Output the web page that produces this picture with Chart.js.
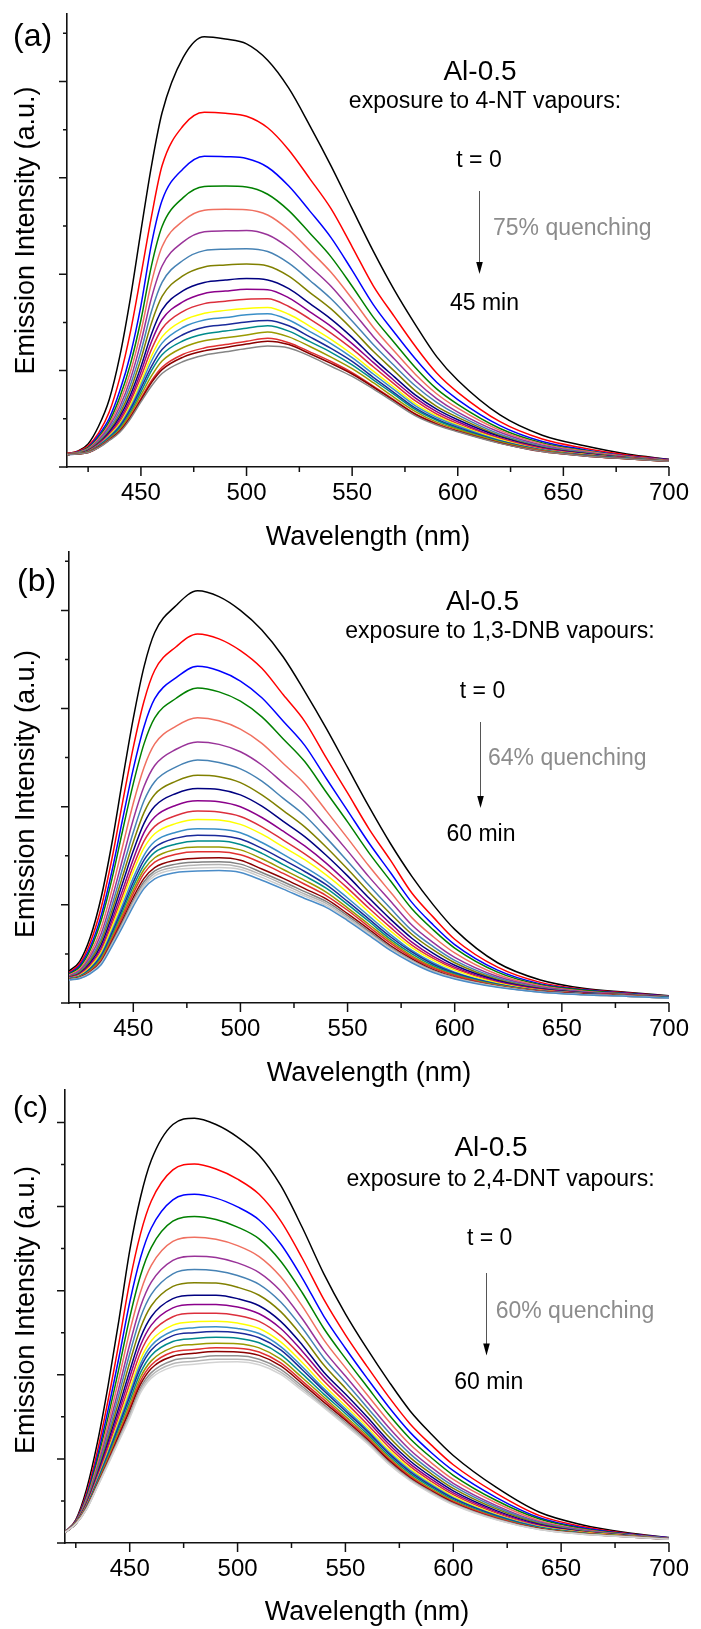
<!DOCTYPE html>
<html>
<head>
<meta charset="utf-8">
<title>Al-0.5 emission quenching</title>
<script src="https://cdn.jsdelivr.net/npm/chart.js@4.4.1/dist/chart.umd.min.js"></script>
<style>
  html, body { margin: 0; padding: 0; background: #fff; }
  body { position: relative; width: 701px; height: 1629px; overflow: hidden; }
  canvas { position: absolute; left: 0; }
</style>
</head>
<body>
<canvas id="chart-a" width="701" height="560" style="top:0px"></canvas>
<canvas id="chart-b" width="701" height="550" style="top:540px"></canvas>
<canvas id="chart-c" width="701" height="549" style="top:1080px"></canvas>
<script>
// panel (a): 4-NT, 0 -> 45 min
const wavelengthA = [415, 420, 425, 430, 435, 440, 445, 450, 455, 460, 470, 480, 490, 500, 510, 520, 530, 540, 550, 560, 570, 580, 590, 600, 620, 640, 660, 680, 700];
const spectraA = [
  [0.28,0.33,0.48,0.85,1.40,2.30,3.50,4.90,6.25,7.35,8.50,8.93,8.88,8.78,8.44,7.86,7.08,6.25,5.36,4.48,3.67,2.95,2.29,1.80,1.08,0.66,0.44,0.27,0.16],
  [0.28,0.32,0.44,0.71,1.14,1.85,2.80,3.98,5.20,6.25,7.08,7.36,7.34,7.28,7.04,6.58,5.98,5.36,4.57,3.76,3.12,2.50,1.95,1.55,0.94,0.58,0.39,0.25,0.15],
  [0.27,0.31,0.41,0.66,1.01,1.58,2.33,3.35,4.63,5.53,6.19,6.45,6.44,6.40,6.22,5.83,5.31,4.76,4.08,3.37,2.79,2.24,1.76,1.40,0.86,0.53,0.36,0.23,0.15],
  [0.27,0.30,0.40,0.62,0.94,1.45,2.13,3.05,4.18,4.99,5.59,5.82,5.83,5.81,5.66,5.32,4.85,4.36,3.75,3.11,2.58,2.06,1.62,1.30,0.80,0.50,0.34,0.22,0.14],
  [0.27,0.30,0.38,0.59,0.89,1.35,1.97,2.81,3.83,4.57,5.11,5.33,5.35,5.34,5.23,4.92,4.49,4.04,3.49,2.90,2.40,1.92,1.52,1.22,0.76,0.48,0.33,0.22,0.14],
  [0.27,0.29,0.37,0.56,0.84,1.25,1.82,2.59,3.51,4.17,4.67,4.88,4.90,4.91,4.82,4.55,4.16,3.75,3.24,2.71,2.24,1.79,1.42,1.14,0.72,0.45,0.31,0.21,0.14],
  [0.27,0.29,0.36,0.53,0.79,1.17,1.70,2.40,3.23,3.83,4.29,4.49,4.52,4.53,4.47,4.23,3.87,3.49,3.03,2.54,2.10,1.68,1.34,1.08,0.68,0.43,0.30,0.20,0.13],
  [0.27,0.29,0.35,0.51,0.75,1.10,1.59,2.24,2.99,3.54,3.97,4.15,4.19,4.21,4.17,3.96,3.62,3.28,2.86,2.40,1.99,1.58,1.26,1.03,0.65,0.41,0.29,0.20,0.13],
  [0.26,0.28,0.34,0.49,0.72,1.04,1.49,2.08,2.76,3.26,3.66,3.83,3.88,3.91,3.88,3.70,3.39,3.07,2.69,2.26,1.87,1.49,1.20,0.98,0.63,0.40,0.28,0.19,0.13],
  [0.26,0.28,0.33,0.48,0.69,0.99,1.41,1.97,2.60,3.06,3.43,3.60,3.65,3.69,3.68,3.51,3.22,2.92,2.56,2.17,1.79,1.43,1.15,0.94,0.60,0.39,0.27,0.19,0.13],
  [0.26,0.28,0.33,0.47,0.67,0.94,1.35,1.87,2.44,2.87,3.23,3.39,3.44,3.48,3.49,3.33,3.07,2.78,2.45,2.08,1.72,1.37,1.10,0.90,0.59,0.38,0.26,0.19,0.13],
  [0.26,0.28,0.32,0.45,0.65,0.90,1.28,1.77,2.30,2.70,3.04,3.19,3.25,3.29,3.31,3.17,2.92,2.65,2.34,1.99,1.65,1.31,1.06,0.87,0.57,0.36,0.26,0.18,0.13],
  [0.26,0.28,0.32,0.45,0.63,0.87,1.23,1.70,2.20,2.57,2.90,3.05,3.10,3.16,3.18,3.05,2.81,2.56,2.27,1.93,1.60,1.27,1.03,0.85,0.55,0.36,0.25,0.18,0.12],
  [0.26,0.27,0.32,0.44,0.61,0.84,1.19,1.63,2.09,2.44,2.75,2.90,2.95,3.01,3.04,2.93,2.70,2.46,2.19,1.86,1.54,1.22,0.99,0.82,0.54,0.35,0.25,0.18,0.12],
  [0.26,0.27,0.31,0.43,0.60,0.81,1.14,1.56,2.00,2.33,2.62,2.76,2.82,2.88,2.93,2.82,2.60,2.38,2.12,1.81,1.50,1.19,0.97,0.80,0.53,0.34,0.24,0.18,0.12],
  [0.26,0.27,0.31,0.42,0.58,0.78,1.10,1.49,1.89,2.20,2.48,2.62,2.68,2.74,2.80,2.70,2.50,2.28,2.04,1.75,1.44,1.15,0.93,0.78,0.52,0.34,0.24,0.17,0.12],
  [0.26,0.27,0.30,0.41,0.57,0.75,1.05,1.42,1.79,2.07,2.34,2.47,2.54,2.61,2.67,2.58,2.39,2.19,1.96,1.68,1.39,1.10,0.90,0.75,0.50,0.33,0.23,0.17,0.12],
  [0.26,0.27,0.30,0.41,0.56,0.74,1.03,1.39,1.75,2.02,2.28,2.41,2.48,2.55,2.61,2.54,2.35,2.15,1.93,1.66,1.37,1.09,0.89,0.74,0.50,0.32,0.23,0.17,0.12],
  [0.26,0.27,0.30,0.40,0.55,0.72,1.00,1.35,1.68,1.94,2.19,2.32,2.39,2.46,2.51,2.47,2.30,2.09,1.88,1.62,1.34,1.06,0.87,0.73,0.49,0.32,0.23,0.17,0.12]
];

// panel (b): 1,3-DNB, 0 -> 60 min
const wavelengthB = [420, 425, 430, 435, 440, 445, 450, 455, 460, 470, 480, 490, 500, 510, 520, 530, 540, 550, 560, 570, 580, 590, 600, 620, 640, 660, 680, 700];
const spectraB = [
  [0.65,0.85,1.35,2.15,3.25,4.55,5.80,6.85,7.55,8.10,8.40,8.28,8.00,7.60,7.05,6.35,5.60,4.80,4.00,3.25,2.58,2.00,1.50,0.82,0.47,0.30,0.22,0.15],
  [0.62,0.80,1.24,1.94,2.93,4.09,5.21,6.15,6.78,7.26,7.52,7.42,7.18,6.82,6.28,5.74,5.00,4.28,3.55,2.91,2.24,1.75,1.30,0.73,0.42,0.28,0.21,0.14],
  [0.60,0.76,1.15,1.78,2.68,3.74,4.77,5.63,6.20,6.63,6.86,6.77,6.56,6.22,5.74,5.25,4.58,3.92,3.26,2.66,2.05,1.59,1.19,0.67,0.39,0.27,0.20,0.14],
  [0.59,0.73,1.09,1.68,2.52,3.51,4.47,5.28,5.81,6.21,6.42,6.34,6.15,5.83,5.38,4.92,4.30,3.69,3.06,2.49,1.92,1.49,1.12,0.63,0.37,0.26,0.19,0.13],
  [0.57,0.69,1.01,1.53,2.30,3.19,4.07,4.80,5.28,5.64,5.81,5.75,5.58,5.29,4.88,4.47,3.92,3.36,2.79,2.26,1.74,1.35,1.02,0.58,0.35,0.24,0.18,0.13],
  [0.55,0.66,0.95,1.41,2.12,2.93,3.74,4.41,4.84,5.17,5.32,5.27,5.12,4.85,4.48,4.10,3.61,3.10,2.57,2.08,1.59,1.23,0.93,0.54,0.33,0.23,0.18,0.12],
  [0.54,0.64,0.90,1.32,1.98,2.74,3.48,4.12,4.51,4.81,4.95,4.90,4.77,4.52,4.17,3.82,3.37,2.89,2.40,1.93,1.48,1.15,0.87,0.51,0.31,0.22,0.17,0.12],
  [0.53,0.62,0.86,1.25,1.87,2.58,3.28,3.88,4.25,4.52,4.64,4.61,4.49,4.24,3.92,3.59,3.18,2.73,2.26,1.82,1.40,1.08,0.82,0.48,0.30,0.21,0.17,0.12],
  [0.52,0.60,0.82,1.18,1.77,2.44,3.10,3.66,4.01,4.27,4.37,4.35,4.24,4.01,3.70,3.39,3.01,2.59,2.14,1.71,1.32,1.01,0.77,0.46,0.29,0.21,0.16,0.12],
  [0.52,0.59,0.79,1.12,1.68,2.30,2.93,3.47,3.79,4.03,4.12,4.10,4.00,3.78,3.50,3.20,2.85,2.45,2.03,1.62,1.24,0.95,0.73,0.44,0.28,0.20,0.16,0.11],
  [0.51,0.58,0.76,1.07,1.60,2.19,2.79,3.30,3.60,3.82,3.91,3.89,3.80,3.59,3.32,3.04,2.72,2.34,1.93,1.54,1.18,0.91,0.70,0.42,0.27,0.20,0.16,0.11],
  [0.50,0.56,0.74,1.03,1.54,2.10,2.68,3.16,3.45,3.66,3.74,3.73,3.64,3.44,3.18,2.92,2.61,2.25,1.85,1.47,1.13,0.87,0.67,0.41,0.26,0.19,0.15,0.11],
  [0.50,0.55,0.71,0.99,1.47,2.00,2.55,3.01,3.29,3.48,3.55,3.54,3.47,3.27,3.03,2.77,2.49,2.14,1.77,1.40,1.07,0.82,0.63,0.39,0.25,0.19,0.15,0.11],
  [0.49,0.54,0.70,0.96,1.42,1.93,2.46,2.91,3.17,3.36,3.42,3.41,3.34,3.15,2.92,2.68,2.41,2.07,1.71,1.35,1.04,0.79,0.61,0.38,0.25,0.19,0.15,0.11],
  [0.49,0.54,0.68,0.93,1.37,1.87,2.38,2.81,3.07,3.24,3.30,3.30,3.23,3.05,2.82,2.59,2.34,2.01,1.66,1.30,1.00,0.76,0.59,0.37,0.24,0.18,0.15,0.11],
  [0.49,0.53,0.66,0.90,1.33,1.81,2.30,2.72,2.96,3.13,3.18,3.18,3.12,2.94,2.72,2.50,2.26,1.94,1.60,1.26,0.96,0.73,0.57,0.36,0.24,0.18,0.15,0.10],
  [0.48,0.52,0.65,0.87,1.29,1.75,2.23,2.64,2.87,3.03,3.08,3.08,3.02,2.85,2.64,2.42,2.19,1.89,1.55,1.22,0.93,0.71,0.56,0.35,0.24,0.18,0.15,0.10],
  [0.48,0.52,0.63,0.84,1.25,1.69,2.15,2.54,2.76,2.91,2.95,2.96,2.91,2.73,2.54,2.33,2.12,1.82,1.50,1.17,0.90,0.68,0.53,0.34,0.23,0.18,0.14,0.10],
  [0.48,0.51,0.62,0.82,1.22,1.65,2.09,2.47,2.69,2.83,2.87,2.88,2.83,2.66,2.47,2.27,2.07,1.78,1.46,1.14,0.87,0.66,0.52,0.34,0.23,0.17,0.14,0.10],
  [0.47,0.51,0.62,0.81,1.19,1.61,2.05,2.42,2.64,2.77,2.81,2.82,2.77,2.61,2.42,2.22,2.03,1.74,1.43,1.12,0.86,0.65,0.51,0.33,0.22,0.17,0.14,0.10],
  [0.47,0.50,0.61,0.80,1.17,1.58,2.01,2.38,2.59,2.72,2.75,2.76,2.72,2.56,2.37,2.18,1.99,1.71,1.41,1.09,0.84,0.63,0.50,0.33,0.22,0.17,0.14,0.10],
  [0.47,0.50,0.60,0.78,1.15,1.55,1.97,2.33,2.53,2.66,2.69,2.70,2.66,2.50,2.32,2.13,1.95,1.68,1.38,1.07,0.82,0.62,0.49,0.32,0.22,0.17,0.14,0.10]
];

// panel (c): 2,4-DNT, 0 -> 60 min
const wavelengthC = [420, 425, 430, 435, 440, 445, 450, 455, 460, 470, 480, 490, 500, 510, 520, 530, 540, 550, 560, 570, 580, 590, 600, 620, 640, 660, 680, 700];
const spectraC = [
  [0.26,0.55,1.28,2.38,3.75,5.30,6.95,8.22,9.10,9.95,10.10,9.95,9.65,9.22,8.50,7.50,6.40,5.45,4.62,3.85,3.14,2.58,2.08,1.32,0.73,0.43,0.25,0.13],
  [0.26,0.53,1.19,2.18,3.40,4.76,6.21,7.35,8.13,8.87,9.01,8.89,8.65,8.29,7.66,6.77,5.79,4.95,4.20,3.48,2.83,2.32,1.86,1.18,0.65,0.39,0.23,0.12],
  [0.26,0.52,1.13,2.05,3.17,4.41,5.72,6.78,7.49,8.16,8.29,8.20,7.99,7.68,7.11,6.30,5.39,4.63,3.92,3.24,2.63,2.14,1.72,1.08,0.60,0.36,0.22,0.12],
  [0.26,0.51,1.09,1.96,3.00,4.15,5.36,6.36,7.03,7.65,7.76,7.69,7.51,7.23,6.70,5.95,5.10,4.39,3.72,3.06,2.48,2.02,1.61,1.01,0.57,0.34,0.21,0.11],
  [0.26,0.50,1.05,1.87,2.84,3.91,5.03,5.97,6.60,7.17,7.27,7.22,7.07,6.81,6.33,5.63,4.83,4.17,3.53,2.90,2.34,1.90,1.51,0.95,0.53,0.32,0.20,0.11],
  [0.25,0.49,1.01,1.79,2.70,3.69,4.72,5.62,6.20,6.72,6.82,6.79,6.66,6.43,5.99,5.33,4.58,3.97,3.36,2.75,2.21,1.79,1.42,0.89,0.50,0.31,0.19,0.11],
  [0.25,0.49,0.98,1.73,2.59,3.53,4.50,5.36,5.91,6.40,6.50,6.47,6.36,6.15,5.73,5.11,4.40,3.82,3.23,2.64,2.12,1.71,1.36,0.85,0.48,0.29,0.19,0.11],
  [0.25,0.48,0.96,1.68,2.49,3.38,4.29,5.11,5.64,6.10,6.19,6.18,6.08,5.89,5.50,4.91,4.23,3.68,3.12,2.53,2.03,1.64,1.30,0.81,0.46,0.28,0.18,0.10],
  [0.25,0.48,0.93,1.63,2.40,3.23,4.09,4.88,5.38,5.81,5.89,5.89,5.81,5.64,5.27,4.71,4.06,3.54,3.00,2.43,1.95,1.57,1.24,0.77,0.44,0.27,0.18,0.10],
  [0.25,0.47,0.92,1.59,2.33,3.12,3.94,4.70,5.18,5.59,5.67,5.67,5.61,5.45,5.10,4.56,3.96,3.44,2.92,2.36,1.88,1.51,1.19,0.74,0.42,0.26,0.17,0.10],
  [0.25,0.47,0.90,1.55,2.26,3.01,3.79,4.53,4.99,5.38,5.46,5.46,5.41,5.27,4.93,4.42,3.85,3.35,2.83,2.29,1.82,1.46,1.15,0.71,0.40,0.26,0.17,0.10],
  [0.25,0.47,0.88,1.51,2.19,2.92,3.65,4.37,4.81,5.18,5.26,5.27,5.23,5.10,4.78,4.29,3.75,3.26,2.76,2.22,1.77,1.41,1.11,0.68,0.39,0.25,0.17,0.10],
  [0.25,0.46,0.87,1.49,2.15,2.85,3.56,4.26,4.69,5.04,5.12,5.14,5.10,4.98,4.67,4.19,3.67,3.19,2.70,2.17,1.73,1.38,1.08,0.66,0.38,0.24,0.16,0.10],
  [0.25,0.46,0.86,1.47,2.11,2.79,3.48,4.17,4.59,4.93,5.00,5.03,5.00,4.88,4.59,4.12,3.62,3.14,2.66,2.13,1.69,1.35,1.06,0.65,0.37,0.24,0.16,0.10],
  [0.25,0.46,0.85,1.44,2.07,2.72,3.38,4.05,4.46,4.79,4.86,4.89,4.87,4.76,4.48,4.02,3.54,3.08,2.60,2.08,1.65,1.32,1.03,0.63,0.36,0.23,0.16,0.09],
  [0.25,0.46,0.84,1.41,2.02,2.65,3.29,3.94,4.33,4.65,4.72,4.75,4.74,4.64,4.37,3.93,3.47,3.01,2.55,2.04,1.61,1.28,1.00,0.61,0.35,0.23,0.16,0.09],
  [0.25,0.46,0.83,1.39,1.98,2.59,3.21,3.85,4.23,4.54,4.60,4.64,4.63,4.54,4.28,3.85,3.41,2.96,2.51,2.00,1.58,1.25,0.98,0.60,0.34,0.22,0.16,0.09],
  [0.25,0.45,0.82,1.38,1.95,2.55,3.15,3.77,4.15,4.44,4.51,4.55,4.54,4.46,4.21,3.79,3.35,2.92,2.47,1.97,1.55,1.23,0.96,0.58,0.34,0.22,0.15,0.09],
  [0.25,0.45,0.81,1.36,1.92,2.49,3.07,3.69,4.05,4.34,4.40,4.45,4.45,4.37,4.13,3.72,3.29,2.87,2.43,1.93,1.52,1.21,0.94,0.57,0.33,0.22,0.15,0.09],
  [0.25,0.45,0.81,1.34,1.89,2.45,3.02,3.63,3.98,4.26,4.32,4.37,4.37,4.30,4.06,3.67,3.25,2.83,2.40,1.90,1.50,1.19,0.92,0.56,0.32,0.21,0.15,0.09],
  [0.25,0.45,0.80,1.33,1.87,2.42,2.97,3.57,3.92,4.19,4.25,4.30,4.31,4.24,4.01,3.62,3.22,2.80,2.37,1.88,1.48,1.17,0.91,0.55,0.32,0.21,0.15,0.09]
];

// Origin-like line colours, one per scan
const baseColors = ['#000000','#ff0000','#0000ff','#008000','#f07060','#993399','#4682b4','#808000','#000080','#8b008b',
                    '#dc2f3c','#ffff00','#3a8fc8','#1a2a9a','#008b8b','#9a9a00','#e03030','#8b0000'];
const colorsA = baseColors.concat(['#858585']);
const colorsB = baseColors.concat(['#808080','#b4b4b4','#cccccc','#4a8cc8']);
const colorsC = baseColors.concat(['#909090','#b8b8b8','#d3d3d3']);

const FONT = "'Liberation Sans', Arial, Helvetica, sans-serif";
Chart.defaults.font.family = FONT;

// page-pixel layout of each panel
const panels = {
  'chart-a': {
    top: 0, height: 560, left: 67, areaTop: 14, areaBottom: 467, xmin: 415, ymax: 9.4,
    wl: wavelengthA, spectra: spectraA, colors: colorsA,
    letter: '(a)', letterSize: 32, letterX: 13, letterY: 46,
    sampleX: 480, sampleY: 80,
    exposure: 'exposure to 4-NT vapours:', exposureX: 485, exposureY: 108,
    startX: 479, startY: 167,
    arrowX: 479, arrowY1: 191, arrowY2: 274,
    quench: '75% quenching', quenchX: 493, quenchY: 235,
    endLabel: '45 min', endX: 484.5, endY: 310,
    ylabelY: 230.5, xtitleY: 537.5
  },
  'chart-b': {
    top: 540, height: 550, left: 69, areaTop: 552, areaBottom: 1003, xmin: 420, ymax: 9.19,
    wl: wavelengthB, spectra: spectraB, colors: colorsB,
    letter: '(b)', letterSize: 32, letterX: 17, letterY: 591,
    sampleX: 482.5, sampleY: 610,
    exposure: 'exposure to 1,3-DNB vapours:', exposureX: 500, exposureY: 638,
    startX: 482.5, startY: 698,
    arrowX: 480, arrowY1: 722, arrowY2: 808,
    quench: '64% quenching', quenchX: 488, quenchY: 765,
    endLabel: '60 min', endX: 481, endY: 841,
    ylabelY: 794, xtitleY: 1073.5
  },
  'chart-c': {
    top: 1080, height: 549, left: 65, areaTop: 1090, areaBottom: 1543, xmin: 420, ymax: 10.77,
    wl: wavelengthC, spectra: spectraC, colors: colorsC,
    letter: '(c)', letterSize: 30, letterX: 13, letterY: 1117,
    sampleX: 491, sampleY: 1156,
    exposure: 'exposure to 2,4-DNT vapours:', exposureX: 500.5, exposureY: 1186,
    startX: 489.7, startY: 1245,
    arrowX: 486, arrowY1: 1273, arrowY2: 1355.5,
    quench: '60% quenching', quenchX: 495.7, quenchY: 1318,
    endLabel: '60 min', endX: 488.7, endY: 1389,
    ylabelY: 1310, xtitleY: 1613
  }
};

// major / minor tick marks drawn outside the axes
const tickMarks = {
  id: 'tickMarks',
  afterDraw(chart) {
    const {ctx, chartArea, scales: {x, y}} = chart;
    ctx.save();
    ctx.strokeStyle = '#111';
    ctx.lineWidth = 1.5;
    ctx.beginPath();
    for (let k = 0; k <= Math.floor(y.max); k++) {
      const py = y.getPixelForValue(k);
      const len = k % 2 === 0 ? 8 : 4;
      ctx.moveTo(chartArea.left - len, py);
      ctx.lineTo(chartArea.left, py);
    }
    for (let v = Math.ceil(x.min / 25) * 25; v <= x.max; v += 25) {
      const px = x.getPixelForValue(v);
      const len = v % 50 === 0 ? 9 : 5;
      ctx.moveTo(px, chartArea.bottom);
      ctx.lineTo(px, chartArea.bottom + len);
    }
    ctx.stroke();
    ctx.restore();
  }
};

// panel letter, annotation, arrow and y-axis title
const panelText = {
  id: 'panelText',
  afterDraw(chart) {
    const p = panels[chart.canvas.id];
    const ctx = chart.ctx;
    const t = p.top;
    ctx.save();
    ctx.fillStyle = '#000';
    ctx.textBaseline = 'alphabetic';

    ctx.textAlign = 'left';
    ctx.font = p.letterSize + 'px ' + FONT;
    ctx.fillText(p.letter, p.letterX, p.letterY - t);

    ctx.textAlign = 'center';
    ctx.font = '28px ' + FONT;
    ctx.fillText('Al-0.5', p.sampleX, p.sampleY - t);
    ctx.font = '23px ' + FONT;
    ctx.fillText(p.exposure, p.exposureX, p.exposureY - t);
    ctx.fillText('t = 0', p.startX, p.startY - t);
    ctx.fillText(p.endLabel, p.endX, p.endY - t);

    ctx.textAlign = 'left';
    ctx.fillStyle = '#8c8c8c';
    ctx.fillText(p.quench, p.quenchX, p.quenchY - t);

    // arrow
    const ax = p.arrowX + 0.5, ay1 = p.arrowY1 - t, ay2 = p.arrowY2 - t;
    ctx.strokeStyle = '#555';
    ctx.lineWidth = 1;
    ctx.beginPath();
    ctx.moveTo(ax, ay1);
    ctx.lineTo(ax, ay2 - 10);
    ctx.stroke();
    ctx.fillStyle = '#000';
    ctx.beginPath();
    ctx.moveTo(ax - 3.3, ay2 - 12);
    ctx.lineTo(ax + 3.3, ay2 - 12);
    ctx.lineTo(ax, ay2);
    ctx.closePath();
    ctx.fill();

    // y title
    ctx.translate(26.7, p.ylabelY - t);
    ctx.rotate(-Math.PI / 2);
    ctx.textAlign = 'center';
    ctx.textBaseline = 'middle';
    ctx.font = '27px ' + FONT;
    ctx.fillText('Emission Intensity (a.u.)', 0, 0);
    ctx.restore();
  }
};

Object.keys(panels).forEach(id => {
  const p = panels[id];
  const n = p.spectra.length;
  const bottomInCanvas = p.areaBottom - p.top;
  const titlePad = Math.max(0, p.height - (p.xtitleY - p.top) - 16.2);

  new Chart(document.getElementById(id), {
    type: 'line',
    data: {
      datasets: p.spectra.map((row, i) => ({
        data: row.map((v, j) => ({x: p.wl[j], y: v})),
        borderColor: p.colors[i],
        borderWidth: 1.5,
        pointRadius: 0,
        fill: false,
        cubicInterpolationMode: 'monotone',
        order: n - i
      }))
    },
    options: {
      responsive: false,
      animation: false,
      events: [],
      layout: { padding: { top: p.areaTop - p.top, right: 701 - 674, left: 0, bottom: 0 } },
      plugins: { legend: { display: false }, tooltip: { enabled: false } },
      scales: {
        x: {
          type: 'linear',
          min: p.xmin,
          max: 700,
          afterFit: s => { s.height = p.height - bottomInCanvas; },
          grid: { drawOnChartArea: false, drawTicks: false },
          border: { display: true, color: '#111', width: 1.6 },
          ticks: {
            stepSize: 50,
            includeBounds: false,
            autoSkip: false,
            maxRotation: 0,
            padding: 12,
            color: '#000',
            font: { size: 24 },
            callback: v => (v % 50 === 0 ? v : '')
          },
          title: {
            display: true,
            text: 'Wavelength (nm)',
            color: '#000',
            font: { size: 27 },
            padding: { top: 0, bottom: titlePad }
          }
        },
        y: {
          min: 0,
          max: p.ymax,
          afterFit: s => { s.width = p.left; },
          grid: { drawOnChartArea: false, drawTicks: false },
          border: { display: true, color: '#111', width: 1.6 },
          ticks: { display: false, stepSize: 1 }
        }
      }
    },
    plugins: [tickMarks, panelText]
  });
});
</script>
</body>
</html>
